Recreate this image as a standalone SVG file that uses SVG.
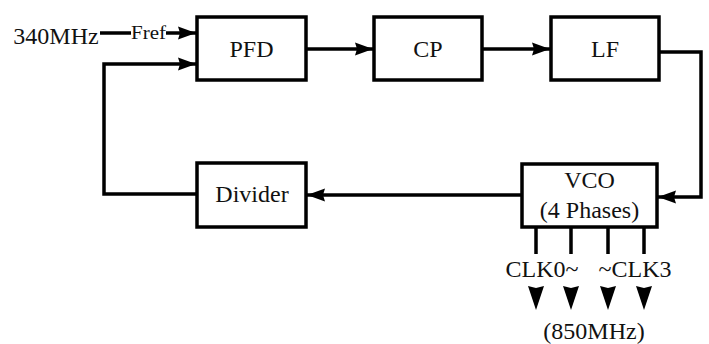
<svg xmlns="http://www.w3.org/2000/svg" width="709" height="344" viewBox="0 0 709 344">
<style>
.box{fill:#fff;stroke:#000;stroke-width:3.5}
.ln{fill:none;stroke:#000;stroke-width:3.5}
.t{font-family:"Liberation Serif","Times New Roman",serif;font-size:24px;fill:#111;text-anchor:middle}
</style>
<defs>
<marker id="ah" markerUnits="userSpaceOnUse" markerWidth="20" markerHeight="16" refX="18" refY="8" orient="auto">
<path d="M0,1.5 L18,8 L0,14.5 L2,8 Z" fill="#000"/>
</marker>
</defs>
<rect width="709" height="344" fill="#fff"/>
<g id="connectors">
<path class="ln" d="M100,33 H131"/>
<path class="ln" d="M166,33 H196" marker-end="url(#ah)"/>
<path class="ln" d="M306,49 H373" marker-end="url(#ah)"/>
<path class="ln" d="M482,49 H550" marker-end="url(#ah)"/>
<path class="ln" d="M659,52 H701 V197 H658" marker-end="url(#ah)"/>
<path class="ln" d="M521,195 H307" marker-end="url(#ah)"/>
<path class="ln" d="M197,194 H104 V64 H196" marker-end="url(#ah)"/>
<path class="ln" d="M536,227 V254 M571,227 V254 M608,227 V254 M644,227 V254"/>
<g fill="#000">
<path d="M528,286 L536,288 L544,286 L536,310 Z"/>
<path d="M563,286 L571,288 L579,286 L571,310 Z"/>
<path d="M600,286 L608,288 L616,286 L608,310 Z"/>
<path d="M636,286 L644,288 L652,286 L644,310 Z"/>
</g>
</g>
<g id="in-label">
<text class="t" x="56" y="44">340MHz</text>
<text class="t" x="148.5" y="39" style="font-size:18px" textLength="35" lengthAdjust="spacingAndGlyphs">Fref</text>
</g>
<g id="pfd">
<rect class="box" x="197" y="17" width="109" height="63"/>
<text class="t" x="251.5" y="57">PFD</text>
</g>
<g id="cp">
<rect class="box" x="374" y="17" width="108" height="63"/>
<text class="t" x="428" y="57">CP</text>
</g>
<g id="lf">
<rect class="box" x="551" y="17" width="108" height="63"/>
<text class="t" x="605" y="57">LF</text>
</g>
<g id="divider">
<rect class="box" x="197" y="163" width="109" height="64"/>
<text class="t" x="252" y="202">Divider</text>
</g>
<g id="vco">
<rect class="box" x="522" y="164" width="135" height="63"/>
<text class="t" x="589.5" y="188">VCO</text>
<text class="t" x="589.5" y="218">(4 Phases)</text>
</g>
<g id="out-labels">
<text class="t" x="542" y="277">CLK0~</text>
<text class="t" x="635" y="277">~CLK3</text>
<text class="t" x="594" y="339">(850MHz)</text>
</g>
</svg>
